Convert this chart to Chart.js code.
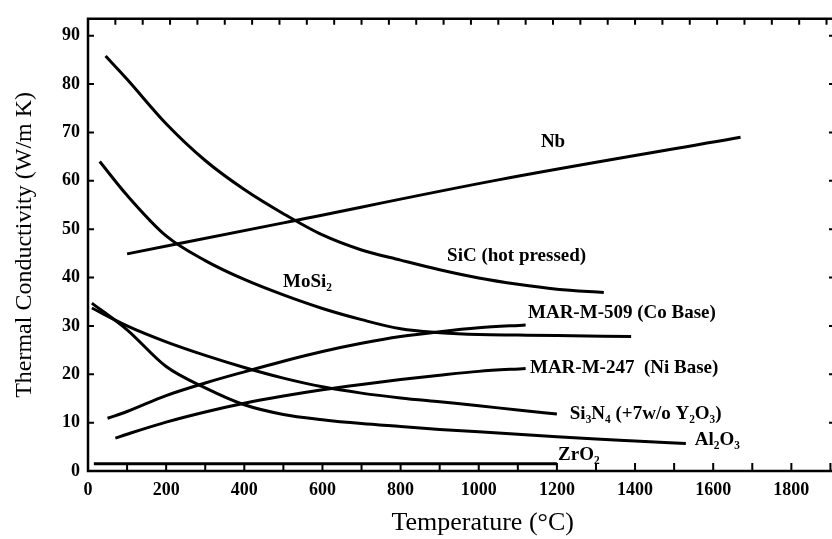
<!DOCTYPE html>
<html>
<head>
<meta charset="utf-8">
<script src="https://cdn.jsdelivr.net/npm/chart.js@4.4.1/dist/chart.umd.min.js"></script>
<style>
  body { margin: 0; background: #fff; }
  #wrap { width: 832px; height: 539px; }
</style>
</head>
<body>
<div id="wrap"><canvas id="chart"></canvas></div>
<script>
// thermal conductivity (W/m K) vs temperature (C)
const sicT = [45, 100, 200, 300, 400, 500, 600, 700, 800, 900, 1000, 1100, 1200, 1320];
const sicK = [85.8, 81.0, 71.8, 64.2, 58.2, 53.2, 48.8, 45.7, 43.6, 41.6, 39.9, 38.6, 37.6, 36.9];

const nbT = [100, 500, 1050, 1670];
const nbK = [44.9, 51.3, 60.2, 69.0];

const mosiT = [30, 100, 200, 300, 400, 500, 600, 700, 800, 900, 1000, 1100, 1200, 1390];
const mosiK = [64.0, 57.0, 48.6, 43.5, 39.6, 36.4, 33.6, 31.3, 29.4, 28.6, 28.2, 28.1, 28.0, 27.8];

const mar509T = [50, 100, 200, 300, 400, 500, 600, 700, 800, 900, 1000, 1120];
const mar509K = [10.9, 12.3, 15.6, 18.2, 20.5, 22.7, 24.7, 26.4, 27.8, 28.8, 29.6, 30.2];

const mar247T = [70, 100, 200, 300, 400, 500, 600, 700, 800, 900, 1000, 1120];
const mar247K = [6.8, 7.6, 10.1, 12.2, 14.0, 15.5, 16.8, 17.9, 18.9, 19.8, 20.6, 21.2];

const si3n4T = [10, 100, 200, 300, 400, 500, 600, 700, 800, 900, 1000, 1100, 1200];
const si3n4K = [33.7, 30.0, 26.7, 23.9, 21.4, 19.2, 17.4, 16.1, 15.1, 14.3, 13.5, 12.6, 11.8];

const al2o3T = [10, 100, 200, 300, 400, 500, 600, 700, 800, 900, 1000, 1100, 1200, 1300, 1400, 1530];
const al2o3K = [34.7, 29.2, 21.6, 17.2, 13.7, 11.7, 10.6, 9.8, 9.2, 8.6, 8.1, 7.6, 7.1, 6.6, 6.2, 5.7];

const zro2T = [15, 1200];
const zro2K = [1.5, 1.5];

const xTicks = [0, 200, 400, 600, 800, 1000, 1200, 1400, 1600, 1800];
const yTicks = [0, 10, 20, 30, 40, 50, 60, 70, 80, 90];

const xTitle = 'Temperature (°C)';
const yTitle = 'Thermal Conductivity (W/m K)';

// curve names written next to the lines (data units)
const curveLabels = [
  { text: 'Nb', x: 1159, y: 68.0 },
  { text: 'SiC (hot pressed)', x: 919, y: 44.4 },
  { text: 'MoSi₂', x: 499, y: 39.0 },
  { text: 'MAR-M-509 (Co Base)', x: 1126, y: 32.6 },
  { text: 'MAR-M-247  (Ni Base)', x: 1131, y: 21.2 },
  { text: 'Si₃N₄ (+7w/o Y₂O₃)', x: 1233, y: 11.8 },
  { text: 'Al₂O₃', x: 1553, y: 6.3 },
  { text: 'ZrO₂', x: 1203, y: 3.3 }
];

const serif = '"Liberation Serif", "Times New Roman", serif';

function toPoints(xs, ys) {
  return xs.map((v, i) => ({ x: v, y: ys[i] }));
}

function curve(xs, ys) {
  return {
    data: toPoints(xs, ys),
    borderColor: '#000',
    borderWidth: 3,
    pointRadius: 0,
    fill: false,
    tension: 0.4,
    cubicInterpolationMode: 'monotone'
  };
}

// box frame with inward tick marks, curve names and the x title
const framePlugin = {
  id: 'frame',
  afterDatasetsDraw(chart) {
    const { ctx, chartArea: a, scales: { x, y } } = chart;
    ctx.save();
    ctx.strokeStyle = '#000';
    ctx.lineCap = 'butt';

    ctx.lineWidth = 2.5;
    ctx.beginPath();
    ctx.moveTo(a.right, a.top);
    ctx.lineTo(a.left, a.top);
    ctx.lineTo(a.left, a.bottom);
    ctx.lineTo(a.right, a.bottom);
    ctx.stroke();

    ctx.lineWidth = 2;
    ctx.beginPath();
    for (let v = 100; v < x.max; v += 100) {
      const px = x.getPixelForValue(v);
      ctx.moveTo(px, a.bottom);
      ctx.lineTo(px, a.bottom - 8);
    }
    for (let v = 70; v < x.max; v += 70) {
      const px = x.getPixelForValue(v);
      ctx.moveTo(px, a.top);
      ctx.lineTo(px, a.top + 6);
    }
    yTicks.forEach(v => {
      if (v === 0) return;
      const py = y.getPixelForValue(v);
      ctx.moveTo(a.left, py);
      ctx.lineTo(a.left + 6, py);
      ctx.moveTo(a.right, py);
      ctx.lineTo(a.right - 3, py);
    });
    ctx.stroke();

    ctx.fillStyle = '#000';
    ctx.font = 'bold 19px ' + serif;
    ctx.textBaseline = 'middle';
    ctx.textAlign = 'left';
    curveLabels.forEach(l => {
      ctx.fillText(l.text, x.getPixelForValue(l.x), y.getPixelForValue(l.y));
    });

    // x title sits a little right of the plot centre in the original
    ctx.font = '26px ' + serif;
    ctx.textAlign = 'center';
    ctx.fillText(xTitle, x.getPixelForValue(1010), a.bottom + 52);
    ctx.restore();
  }
};

new Chart(document.getElementById('chart').getContext('2d'), {
  type: 'line',
  data: {
    datasets: [
      curve(sicT, sicK),
      curve(nbT, nbK),
      curve(mosiT, mosiK),
      curve(mar509T, mar509K),
      curve(mar247T, mar247K),
      curve(si3n4T, si3n4K),
      curve(al2o3T, al2o3K),
      curve(zro2T, zro2K)
    ]
  },
  options: {
    responsive: true,
    maintainAspectRatio: false,
    animation: false,
    layout: { padding: { top: 12, right: 0, left: 0, bottom: 0 } },
    plugins: {
      legend: { display: false },
      tooltip: { enabled: false }
    },
    scales: {
      x: {
        type: 'linear',
        min: 0,
        max: 1904,
        grid: { display: false, drawTicks: false },
        border: { display: false },
        afterBuildTicks: scale => { scale.ticks = xTicks.map(v => ({ value: v })); },
        afterFit: scale => { scale.height = 68; },
        ticks: {
          color: '#000',
          padding: 9,
          maxRotation: 0,
          autoSkip: false,
          font: { family: serif, size: 18, weight: 'bold' },
          callback: v => String(v)
        },
        title: { display: false }
      },
      y: {
        type: 'linear',
        min: 0,
        max: 93.5,
        grid: { display: false, drawTicks: false },
        border: { display: false },
        afterBuildTicks: scale => { scale.ticks = yTicks.map(v => ({ value: v })); },
        afterFit: scale => { scale.width = 88; },
        ticks: {
          color: '#000',
          padding: 8,
          font: { family: serif, size: 18, weight: 'bold' },
          callback: v => String(v)
        },
        title: {
          display: true,
          text: yTitle,
          color: '#000',
          font: { family: serif, size: 24 },
          padding: { top: 10, bottom: 0 }
        }
      }
    }
  },
  plugins: [framePlugin]
});
</script>
</body>
</html>
